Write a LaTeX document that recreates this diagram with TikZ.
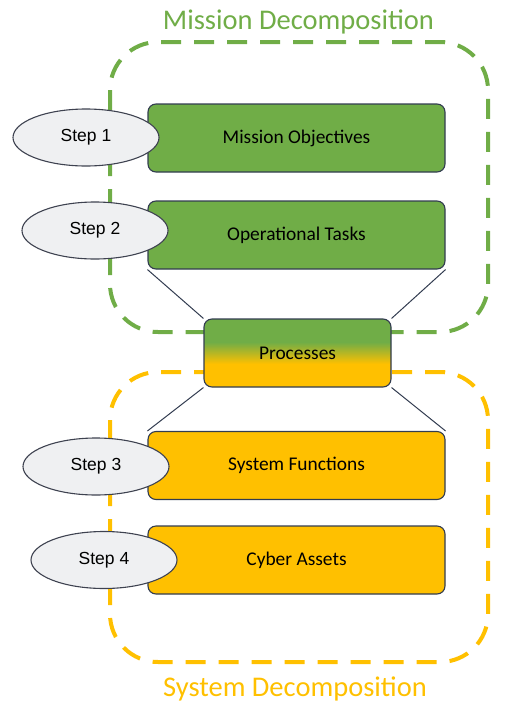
\documentclass[tikz,border=0pt]{standalone}
\usepackage{fontspec}
\setmainfont{Carlito}
\newfontfamily\stepfont{Liberation Sans}
\usetikzlibrary{shapes.geometric}

\definecolor{missiongreen}{HTML}{70AD47}
\definecolor{systemyellow}{HTML}{FFC000}
\definecolor{boxline}{HTML}{323C50}
\definecolor{ovalfill}{HTML}{EFF0F2}
\definecolor{ovalline}{HTML}{3E4250}

\pgfdeclarelayer{back}
\pgfsetlayers{back,main}

\pgfdeclareverticalshading{procfade}{100bp}{%
color(0bp)=(systemyellow); color(42bp)=(systemyellow);
color(58bp)=(missiongreen); color(100bp)=(missiongreen)}

\tikzset{
  layer/.style={draw=boxline, line width=1.1pt, rounded corners=8pt,
    minimum width=297pt, minimum height=68pt, inner sep=0pt,
    font=\fontsize{19.4}{21}\selectfont},
  stepoval/.style={ellipse, draw=ovalline, line width=1.1pt, fill=ovalfill,
    minimum width=146pt, minimum height=57pt, inner sep=0pt,
    font=\stepfont\fontsize{17.5}{19}\selectfont},
  frame/.style={line width=4pt, dash pattern=on 20pt off 13pt, rounded corners=48pt},
  link/.style={draw=boxline, line width=1pt},
  heading/.style={anchor=base, inner sep=0pt, font=\fontsize{28.5}{30}\selectfont}
}

\newcommand{\layerbox}[4]{%
\node[layer, fill=#4] (#1) at (296.5,#2) {#3};
}
\newcommand{\steplabel}[4]{%
\node[stepoval] (#1) at (#2,#3) {#4};
}

\begin{document}
\begin{tikzpicture}[x=1pt,y=-1pt]
\useasboundingbox (0,0) rectangle (510,721);

\node[heading, text=missiongreen] (missiontitle) at (298.5,29) {Mission Decomposition};
\node[heading, text=systemyellow] (systemtitle) at (295,696) {System Decomposition};

\layerbox{objectives}{138}{Mission Objectives}{missiongreen}
\layerbox{tasks}{235}{Operational Tasks}{missiongreen}

\node[layer, minimum width=187pt, shade, shading=procfade] (processes) at (297.5,353) {Processes};

\layerbox{functions}{465.5}{System Functions}{systemyellow}
\layerbox{assets}{560}{Cyber Assets}{systemyellow}

\steplabel{step1}{86}{137.5}{Step 1}
\steplabel{step2}{95}{230.5}{Step 2}
\steplabel{step3}{96}{466.5}{Step 3}
\steplabel{step4}{104}{560}{Step 4}

% frames and funnel go behind the boxes
\begin{pgfonlayer}{back}
\draw[frame, missiongreen] (110,42) rectangle (488,332);
\draw[frame, systemyellow] (110,372) rectangle (488,662);

\draw[link] (tasks.south west) -- (processes.north west);
\draw[link] (tasks.south east) -- (processes.north east);
\draw[link] (processes.south west) -- (functions.north west);
\draw[link] (processes.south east) -- (functions.north east);
\end{pgfonlayer}

\end{tikzpicture}
\end{document}
